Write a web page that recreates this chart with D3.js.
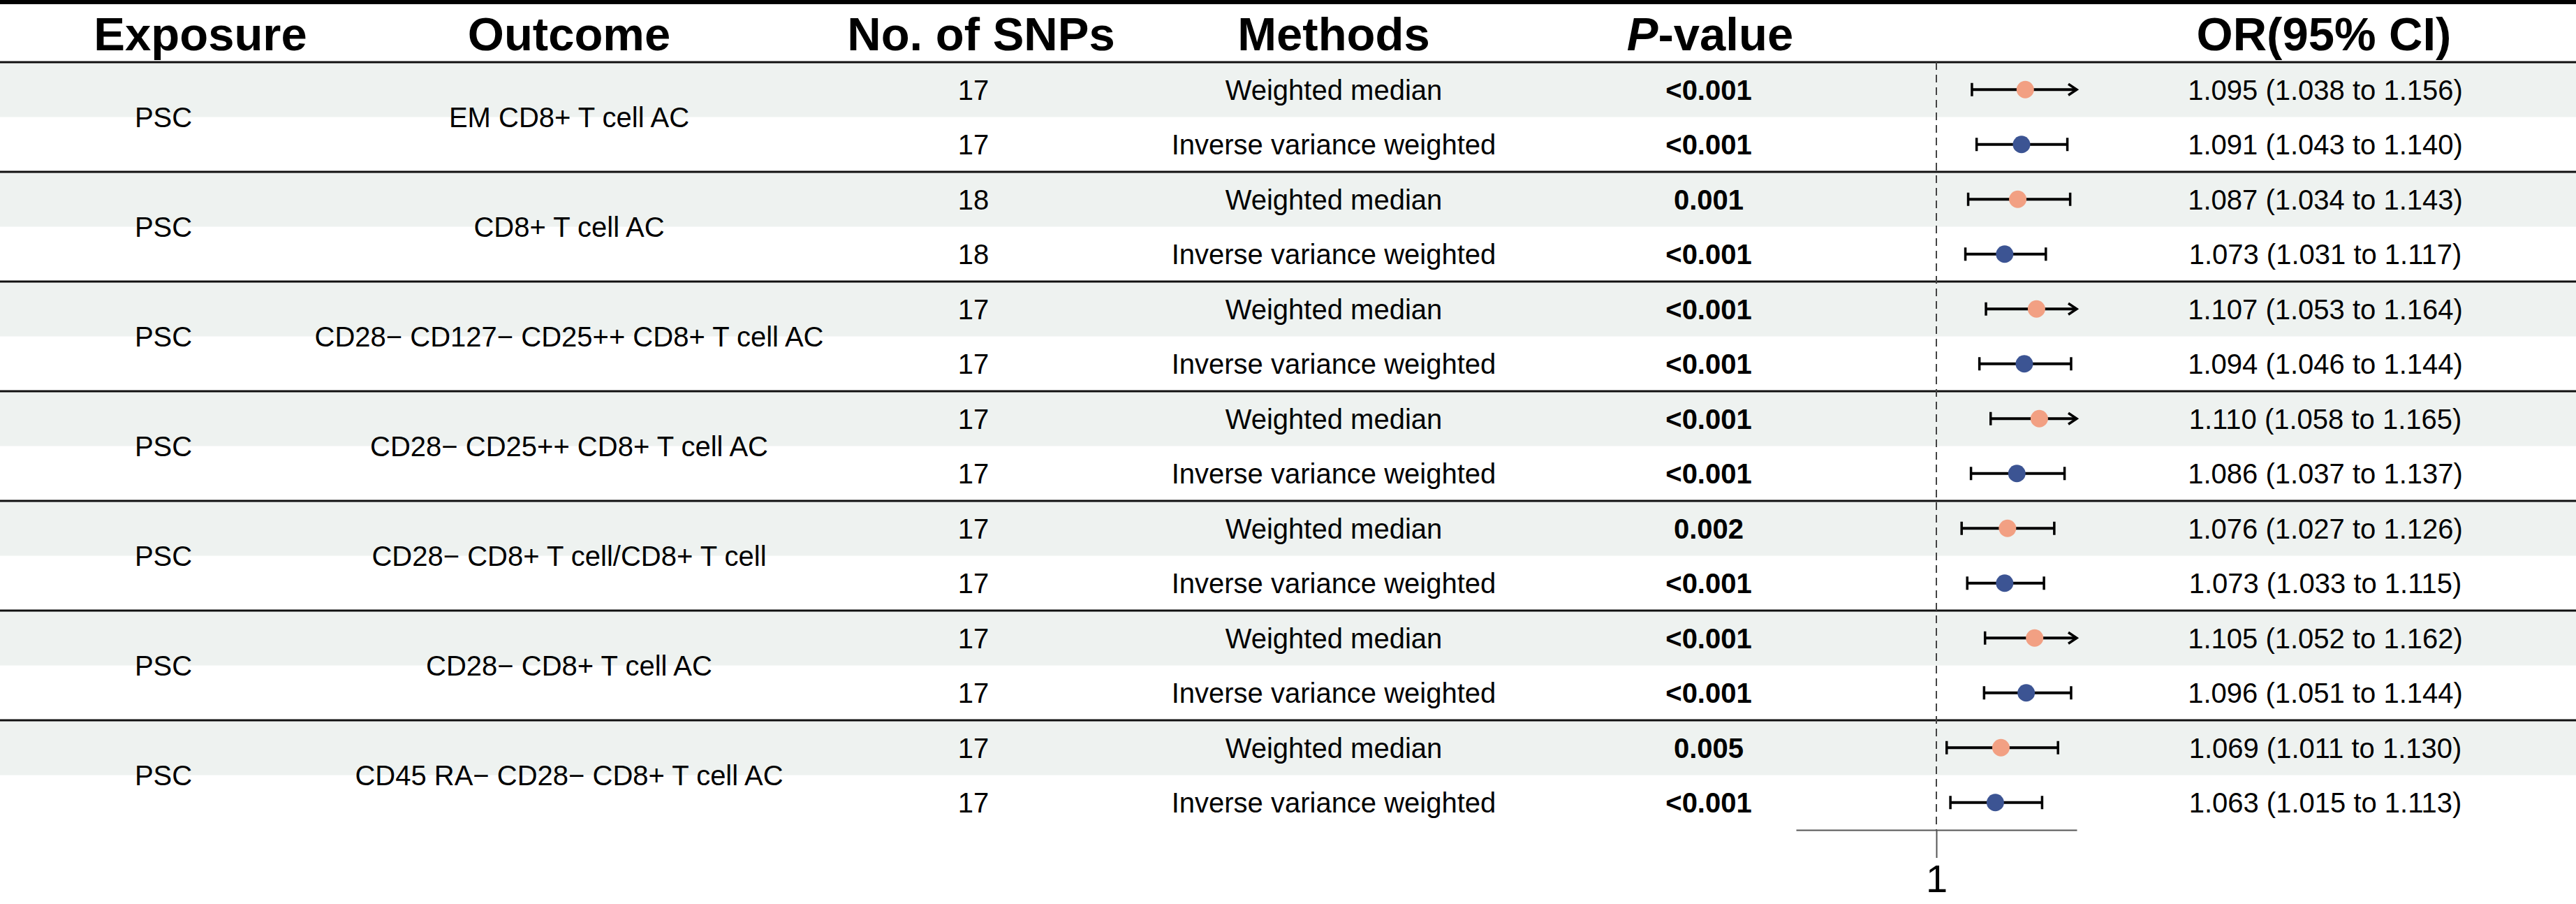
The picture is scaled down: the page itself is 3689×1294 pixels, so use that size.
<!DOCTYPE html>
<html>
<head>
<meta charset="utf-8">
<script src="https://cdn.jsdelivr.net/npm/d3@7"></script>
<style>
  html, body { margin: 0; padding: 0; background: #fff; }
  text { font-family: "Liberation Sans", Arial, sans-serif; }
</style>
</head>
<body>
<svg id="forest" width="3689" height="1294"></svg>
<script>
// ---- data ----
var exposures = ["PSC", "PSC", "PSC", "PSC", "PSC", "PSC", "PSC"];
var outcomes = [
  "EM CD8+ T cell AC",
  "CD8+ T cell AC",
  "CD28\u2212 CD127\u2212 CD25++ CD8+ T cell AC",
  "CD28\u2212 CD25++ CD8+ T cell AC",
  "CD28\u2212 CD8+ T cell/CD8+ T cell",
  "CD28\u2212 CD8+ T cell AC",
  "CD45 RA\u2212 CD28\u2212 CD8+ T cell AC"
];
var methods = ["Weighted median", "Inverse variance weighted"];
var nSnps = [17, 17, 18, 18, 17, 17, 17, 17, 17, 17, 17, 17, 17, 17];
var pValues = ["<0.001", "<0.001", "0.001", "<0.001", "<0.001", "<0.001", "<0.001",
               "<0.001", "0.002", "<0.001", "<0.001", "<0.001", "0.005", "<0.001"];
var orVals = [1.095, 1.091, 1.087, 1.073, 1.107, 1.094, 1.110, 1.086, 1.076, 1.073, 1.105, 1.096, 1.069, 1.063];
var ciLow  = [1.038, 1.043, 1.034, 1.031, 1.053, 1.046, 1.058, 1.037, 1.027, 1.033, 1.052, 1.051, 1.011, 1.015];
var ciHigh = [1.156, 1.140, 1.143, 1.117, 1.164, 1.144, 1.165, 1.137, 1.126, 1.115, 1.162, 1.144, 1.130, 1.113];
var headers = ["Exposure", "Outcome", "No. of SNPs", "Methods", "P-value", "OR(95% CI)"];
var xDomain = [0.85, 1.15];
var refValue = 1;

// ---- layout ----
var svg = d3.select("#forest"),
  width = +svg.attr("width"),
  height = +svg.attr("height");

var headerBottom = 89, tableBottom = 1188;
var colX = { exposure: 234, outcome: 815, snps: 1394, method: 1910, p: 2447, or: 3330 };
var headerX = [287, 815, 1405, 1910, 2449, 3328];
var methodColor = ["#F2A083", "#3C5493"];

var rows = [];
outcomes.forEach(function(o, g) {
  methods.forEach(function(m, j) {
    var i = g * 2 + j;
    rows.push({ i: i, group: g, method: m, m: j, n: nSnps[i], p: pValues[i],
                or: orVals[i], lo: ciLow[i], hi: ciHigh[i] });
  });
});

var y = d3.scaleBand()
  .domain(d3.range(rows.length))
  .range([headerBottom, tableBottom]);

var yGroup = d3.scaleBand()
  .domain(d3.range(outcomes.length))
  .range([headerBottom, tableBottom]);

var x = d3.scaleLinear()
  .domain(xDomain)
  .range([2572, 2974]);

// shaded first row of every group
svg.append("g")
  .selectAll("rect")
  .data(rows.filter(function(d) { return d.m === 0; }))
  .enter().append("rect")
  .attr("x", 0)
  .attr("width", width)
  .attr("y", function(d) { return y(d.i); })
  .attr("height", y.bandwidth())
  .attr("fill", "#EEF2F0");

// table rules
svg.append("line")
  .attr("x1", 0).attr("x2", width)
  .attr("y1", 3).attr("y2", 3)
  .attr("stroke", "#000").attr("stroke-width", 6);
svg.append("line")
  .attr("x1", 0).attr("x2", width)
  .attr("y1", headerBottom).attr("y2", headerBottom)
  .attr("stroke", "#111").attr("stroke-width", 3);
svg.append("g")
  .selectAll("line")
  .data(d3.range(1, outcomes.length))
  .enter().append("line")
  .attr("x1", 0).attr("x2", width)
  .attr("y1", function(g) { return yGroup(g); })
  .attr("y2", function(g) { return yGroup(g); })
  .attr("stroke", "#111").attr("stroke-width", 3);

// headers
svg.append("g")
  .selectAll("text")
  .data(headers)
  .enter().append("text")
  .attr("x", function(d, i) { return headerX[i]; })
  .attr("y", 72)
  .attr("text-anchor", "middle")
  .attr("font-size", 67)
  .attr("font-weight", "bold")
  .each(function(d) {
    var t = d3.select(this);
    if (d === "P-value") {
      t.append("tspan").attr("font-style", "italic").text("P");
      t.append("tspan").text("-value");
    } else {
      t.text(d);
    }
  });

// group labels
var groupText = svg.append("g").attr("font-size", 40);
groupText.selectAll(".expo")
  .data(exposures)
  .enter().append("text")
  .attr("class", "expo")
  .attr("x", colX.exposure)
  .attr("y", function(d, g) { return yGroup(g) + yGroup.bandwidth() / 2; })
  .attr("dy", "0.36em")
  .attr("text-anchor", "middle")
  .text(function(d) { return d; });
groupText.selectAll(".outc")
  .data(outcomes)
  .enter().append("text")
  .attr("class", "outc")
  .attr("x", colX.outcome)
  .attr("y", function(d, g) { return yGroup(g) + yGroup.bandwidth() / 2; })
  .attr("dy", "0.36em")
  .attr("text-anchor", "middle")
  .text(function(d) { return d; });

// row text
var rowG = svg.append("g")
  .selectAll("g")
  .data(rows)
  .enter().append("g")
  .attr("transform", function(d) { return "translate(0," + (y(d.i) + y.bandwidth() / 2) + ")"; })
  .attr("font-size", 40);

rowG.append("text")
  .attr("x", colX.snps).attr("dy", "0.36em").attr("text-anchor", "middle")
  .text(function(d) { return d.n; });
rowG.append("text")
  .attr("x", colX.method).attr("dy", "0.36em").attr("text-anchor", "middle")
  .text(function(d) { return d.method; });
rowG.append("text")
  .attr("x", colX.p).attr("dy", "0.36em").attr("text-anchor", "middle")
  .attr("font-weight", "bold")
  .text(function(d) { return d.p; });
rowG.append("text")
  .attr("x", colX.or).attr("dy", "0.36em").attr("text-anchor", "middle")
  .text(function(d) {
    return d.or.toFixed(3) + " (" + d.lo.toFixed(3) + " to " + d.hi.toFixed(3) + ")";
  });

// reference line
svg.append("line")
  .attr("x1", x(refValue)).attr("x2", x(refValue))
  .attr("y1", headerBottom).attr("y2", tableBottom)
  .attr("stroke", "#444").attr("stroke-width", 2)
  .attr("stroke-dasharray", "11,7");

// confidence intervals
var capH = 9.5;
rowG.append("line")
  .attr("x1", function(d) { return x(Math.max(d.lo, xDomain[0])); })
  .attr("x2", function(d) { return x(Math.min(d.hi, xDomain[1])); })
  .attr("stroke", "#000").attr("stroke-width", 4);
rowG.filter(function(d) { return d.lo >= xDomain[0]; })
  .append("line")
  .attr("x1", function(d) { return x(d.lo); })
  .attr("x2", function(d) { return x(d.lo); })
  .attr("y1", -capH).attr("y2", capH)
  .attr("stroke", "#000").attr("stroke-width", 3.5);
rowG.filter(function(d) { return d.hi <= xDomain[1]; })
  .append("line")
  .attr("x1", function(d) { return x(d.hi); })
  .attr("x2", function(d) { return x(d.hi); })
  .attr("y1", -capH).attr("y2", capH)
  .attr("stroke", "#000").attr("stroke-width", 3.5);
rowG.filter(function(d) { return d.hi > xDomain[1]; })
  .append("path")
  .attr("d", function(d) {
    var xe = x(xDomain[1]);
    return "M" + (xe - 12) + ",-8L" + xe + ",0L" + (xe - 12) + ",8";
  })
  .attr("fill", "none")
  .attr("stroke", "#000").attr("stroke-width", 3.5)
  .attr("stroke-linejoin", "miter");

// point estimates
rowG.append("circle")
  .attr("cx", function(d) { return x(d.or); })
  .attr("r", 12.5)
  .attr("fill", function(d) { return methodColor[d.m]; });

// x axis
var axis = svg.append("g")
  .attr("transform", "translate(0," + tableBottom + ")")
  .call(d3.axisBottom(x).tickValues([refValue]).tickSize(40).tickSizeOuter(0).tickPadding(9)
    .tickFormat(d3.format("d")));
axis.select(".domain").attr("stroke", "#555").attr("stroke-width", 2);
axis.selectAll(".tick line").attr("stroke", "#555").attr("stroke-width", 2);
axis.selectAll(".tick text")
  .attr("font-size", 56)
  .attr("font-family", "Liberation Sans, Arial, sans-serif")
  .attr("fill", "#000");
</script>
</body>
</html>
